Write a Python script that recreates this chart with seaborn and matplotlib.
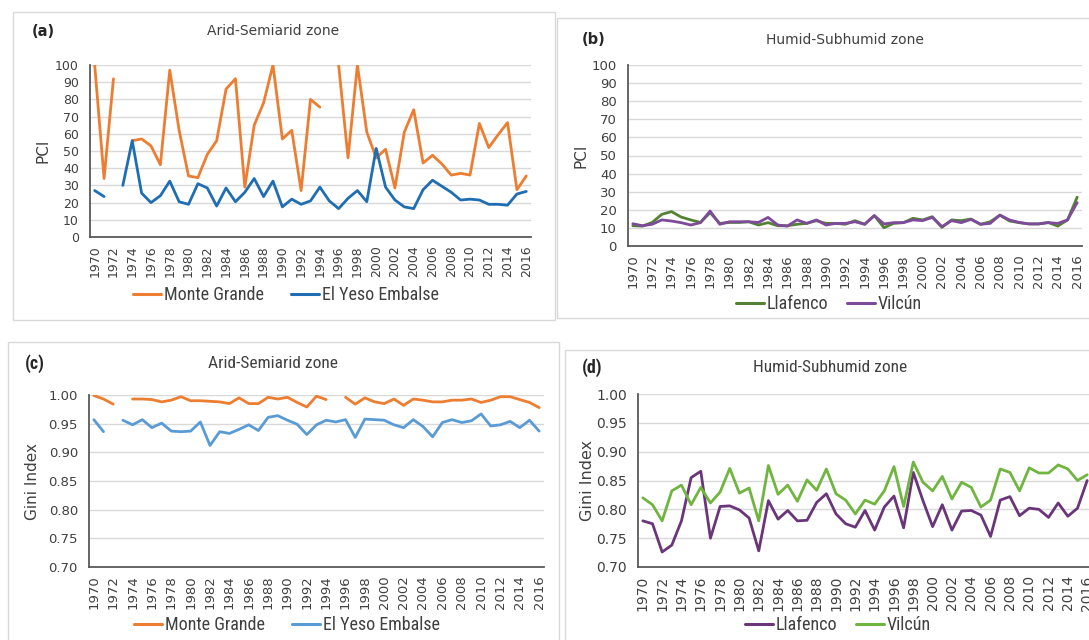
import numpy as np
import pandas as pd
import matplotlib
matplotlib.use("Agg")
import matplotlib.pyplot as plt
import seaborn as sns
from matplotlib.patches import Rectangle
from matplotlib.lines import Line2D
from matplotlib import font_manager
from matplotlib.font_manager import FontProperties

nan = np.nan
years = list(range(1970, 2017))
year_ticks = years[::2]

# Precipitation Concentration Index, arid-semiarid stations
pci_monte_grande = [100, 34, 92, nan, 56, 57, 53, 42, 97, 62, 35.5, 34.5, 48, 56, 86, 92, 29, 65, 78, 100,
                    57, 62, 27, 80, 75.5, nan, 100, 46, 100, 61, 46, 51, 28.5, 61, 74, 43, 47.5, 42.5, 36, 37,
                    36, 66, 52, 59.5, 66.5, 27.5, 35.5]
pci_el_yeso = [27, 23.5, nan, 30, 56, 25.5, 20, 24, 32.5, 20.5, 19, 31, 28.5, 18, 28.5, 20.5, 26, 34, 23.5, 32.5,
               17.5, 22, 19, 21, 29, 21, 16.5, 22.5, 27, 20.5, 51.5, 29, 21.5, 17.5, 16.5, 27.5, 33, 29.5, 26, 21.5,
               22, 21.5, 19, 19, 18.5, 25, 26.5]

# Precipitation Concentration Index, humid-subhumid stations
pci_llafenco = [11.2, 11, 13, 17.5, 19, 16, 14.4, 13, 18.4, 12.5, 13, 13, 13.4, 11.6, 12.9, 11.2, 11.2, 12, 12.5, 14,
                12.5, 12.5, 12, 14, 12, 16.8, 10.1, 12.5, 12.9, 15.3, 14.4, 16.2, 10.3, 14.4, 14, 14.9, 12, 13.4, 17,
                13.8, 12.9, 12.2, 12.2, 13, 11, 14.4, 27]
pci_vilcun = [12.3, 11.2, 12, 14.4, 13.8, 12.9, 11.6, 12.9, 19.3, 12, 13.4, 13.4, 13.4, 13, 15.8, 11.6, 11, 14.4, 12.5, 14.4,
              11.6, 12.5, 12.5, 13.4, 12, 16.8, 12.2, 12.9, 12.9, 14.4, 14, 15.8, 10.7, 14, 12.9, 14.7, 12, 12.5, 17.1,
              14.4, 13, 12.2, 12.2, 12.9, 12.5, 14.4, 24]

# Gini index, arid-semiarid stations
gini_monte_grande = [0.999, 0.993, 0.984, nan, 0.993, 0.993, 0.992, 0.988, 0.991, 0.997, 0.990, 0.990, 0.989, 0.988,
                     0.985, 0.995, 0.985, 0.985, 0.996, 0.993,
                     0.996, 0.987, 0.979, 0.998, 0.992, nan, 0.996, 0.984, 0.995, 0.988, 0.985, 0.993, 0.982, 0.993,
                     0.991, 0.988, 0.988, 0.991, 0.991, 0.993, 0.987, 0.991, 0.997, 0.997, 0.992, 0.987, 0.978]
gini_el_yeso = [0.957, 0.936, nan, 0.956, 0.948, 0.957, 0.943, 0.951, 0.937, 0.936, 0.937, 0.953, 0.912, 0.936,
                0.933, 0.940, 0.948, 0.938, 0.961, 0.964,
                0.956, 0.949, 0.931, 0.948, 0.956, 0.953, 0.957, 0.926, 0.958, 0.957, 0.956, 0.948, 0.943, 0.957,
                0.945, 0.927, 0.952, 0.957, 0.952, 0.955, 0.967, 0.946, 0.948, 0.954, 0.943, 0.956, 0.937]

# Gini index, humid-subhumid stations
gini_llafenco = [0.780, 0.775, 0.726, 0.738, 0.780, 0.855, 0.866, 0.750, 0.805, 0.806, 0.799, 0.785, 0.728, 0.815,
                 0.783, 0.798, 0.780, 0.781, 0.812, 0.827,
                 0.792, 0.775, 0.769, 0.798, 0.764, 0.804, 0.823, 0.768, 0.864, 0.815, 0.770, 0.808, 0.764, 0.797,
                 0.798, 0.790, 0.753, 0.816, 0.822, 0.789, 0.802, 0.800, 0.786, 0.811, 0.788, 0.802, 0.850]
gini_vilcun = [0.820, 0.808, 0.780, 0.832, 0.842, 0.808, 0.838, 0.811, 0.830, 0.871, 0.828, 0.837, 0.780, 0.876,
               0.826, 0.842, 0.814, 0.851, 0.833, 0.870,
               0.827, 0.816, 0.792, 0.816, 0.809, 0.832, 0.874, 0.805, 0.882, 0.847, 0.832, 0.857, 0.818, 0.847,
               0.838, 0.804, 0.816, 0.870, 0.864, 0.832, 0.872, 0.863, 0.863, 0.877, 0.870, 0.850, 0.860]

ORANGE = "#ED7D31"
BLUE_DARK = "#1F6DB3"
BLUE_LIGHT = "#5B9BD5"
GREEN_DARK = "#548235"
PURPLE = "#7E4A9A"
GREEN_LIGHT = "#70B540"
PURPLE_DARK = "#6B3579"
TEXT = "#404040"
GRID = "#D9D9D9"
AXIS = "#595959"

sns.set_theme(style="white")
plt.rcParams["font.family"] = ["DejaVu Sans"]
plt.rcParams["font.stretch"] = "normal"


def pick_narrow_font():
    """Return (family, stretch) of an installed condensed face, or None."""
    installed = {f.name for f in font_manager.fontManager.ttflist}
    for name in ("Liberation Sans Narrow", "Roboto Condensed", "Open Sans Condensed",
                 "Noto Sans Condensed", "DejaVu Sans Condensed", "Arial Narrow"):
        if name in installed:
            return name, "normal"
    for f in font_manager.fontManager.ttflist:
        st = f.stretch
        narrow = (isinstance(st, str) and "condensed" in st) or (isinstance(st, (int, float)) and st < 500)
        if narrow and f.style == "normal":
            return f.name, st
    return None


NARROW = pick_narrow_font()
REGULAR = FontProperties(family="DejaVu Sans", stretch="normal")


def narrow_props(size, weight="normal"):
    if NARROW is None:
        # plain face set a little smaller so the text keeps the same width
        return FontProperties(family="DejaVu Sans", size=size * 0.8, weight=weight)
    return FontProperties(family=NARROW[0], stretch=NARROW[1], size=size, weight=weight)


def regular_props(size, weight="normal"):
    return FontProperties(family="DejaVu Sans", stretch="normal", size=size, weight=weight)


W, H = 1089, 640
fig = plt.figure(figsize=(W / 100, H / 100), dpi=100)
fig.patch.set_facecolor("white")


def fx(x):
    return x / W


def fy(y):
    return 1 - y / H


def px_axes(left, top, right, bottom):
    return fig.add_axes([fx(left), fy(bottom), (right - left) / W, (bottom - top) / H])


def panel_box(left, top, right, bottom):
    fig.add_artist(Rectangle((fx(left), fy(bottom)), (right - left) / W, (bottom - top) / H,
                             transform=fig.transFigure, fill=False, ec="#D9D9D9", lw=1.0, zorder=0))


def draw_series(ax, values, color):
    df = pd.DataFrame({"year": years, "value": values})
    df["seg"] = df["value"].isna().cumsum()
    df = df.dropna()
    sns.lineplot(data=df, x="year", y="value", units="seg", estimator=None,
                 color=color, lw=2.0, ax=ax, legend=False)


def style_axes(ax, ylim, yticks, yfmt, ylabel, tick_fs, label_fs, labelpad):
    ax.set_xlim(1969.5, 2016.5)
    ax.set_ylim(*ylim)
    ax.set_yticks(yticks)
    ax.set_yticklabels([yfmt.format(v) for v in yticks], fontproperties=regular_props(tick_fs), color=TEXT)
    ax.set_xticks(year_ticks)
    ax.set_xticklabels([str(y) for y in year_ticks], rotation=90, fontproperties=regular_props(tick_fs),
                       color=TEXT)
    ax.tick_params(axis="y", length=0, pad=8)
    ax.tick_params(axis="x", length=0, pad=6)
    ax.yaxis.grid(True, color=GRID, lw=1.0)
    ax.xaxis.grid(False)
    ax.set_axisbelow(True)
    for s in ("top", "right"):
        ax.spines[s].set_visible(False)
    for s in ("left", "bottom"):
        ax.spines[s].set_color(AXIS)
        ax.spines[s].set_linewidth(1.3)
    ax.set_xlabel("")
    ax.set_ylabel(ylabel, fontproperties=regular_props(label_fs), color=TEXT, labelpad=labelpad)
    ax.set_facecolor("white")


def legend(entries, cx, cy, fs, spacing):
    handles = [Line2D([0], [0], color=c, lw=2.2) for _, c in entries]
    labels = [n for n, _ in entries]
    fig.legend(handles, labels, loc="center", bbox_to_anchor=(fx(cx), fy(cy)),
               ncol=2, frameon=False, handlelength=1.55, handletextpad=0.15, columnspacing=spacing,
               prop=narrow_props(fs), labelcolor=TEXT)


# panel frames
panel_box(13, 12, 555, 320)
panel_box(557, 18, 1100, 318)
panel_box(8, 342, 559, 660)
panel_box(565, 350, 1100, 660)

pci_ticks = list(range(0, 101, 10))
gini_ticks = [0.70, 0.75, 0.80, 0.85, 0.90, 0.95, 1.00]

# (a) PCI, arid-semiarid
ax_a = px_axes(90, 65, 531, 237)
draw_series(ax_a, pci_monte_grande, ORANGE)
draw_series(ax_a, pci_el_yeso, BLUE_DARK)
style_axes(ax_a, (0, 100), pci_ticks, "{:d}", "PCI", 9, 11, 3)
fig.text(fx(32), fy(32), "(a)", fontproperties=regular_props(10.5, "bold"), color="#262626", va="center")
fig.text(fx(273), fy(31), "Arid-Semiarid zone", fontproperties=regular_props(10), color=TEXT,
         ha="center", va="center")
legend([("Monte Grande", ORANGE), ("El Yeso Embalse", BLUE_DARK)], 286, 295, 13, 1.5)

# (b) PCI, humid-subhumid
ax_b = px_axes(628, 65, 1082, 246)
draw_series(ax_b, pci_llafenco, GREEN_DARK)
draw_series(ax_b, pci_vilcun, PURPLE)
style_axes(ax_b, (0, 100), pci_ticks, "{:d}", "PCI", 9.5, 11, 2)
fig.text(fx(582), fy(40), "(b)", fontproperties=regular_props(10.5, "bold"), color="#262626", va="center")
fig.text(fx(845), fy(40), "Humid-Subhumid zone", fontproperties=regular_props(10), color=TEXT,
         ha="center", va="center")
legend([("Llafenco", GREEN_DARK), ("Vilcún", PURPLE)], 829, 304, 13, 1.0)

# (c) Gini index, arid-semiarid
ax_c = px_axes(89, 395, 544, 567)
draw_series(ax_c, gini_monte_grande, ORANGE)
draw_series(ax_c, gini_el_yeso, BLUE_LIGHT)
style_axes(ax_c, (0.70, 1.00), gini_ticks, "{:.2f}", "Gini Index", 9.5, 11, 6)
fig.text(fx(25), fy(364), "(c)", fontproperties=narrow_props(13, "bold"), color="#262626", va="center")
fig.text(fx(273), fy(363), "Arid-Semiarid zone", fontproperties=narrow_props(12.5), color=TEXT,
         ha="center", va="center")
legend([("Monte Grande", ORANGE), ("El Yeso Embalse", BLUE_LIGHT)], 287, 625, 13, 1.5)

# (d) Gini index, humid-subhumid
ax_d = px_axes(638, 394, 1092, 567)
draw_series(ax_d, gini_llafenco, PURPLE_DARK)
draw_series(ax_d, gini_vilcun, GREEN_LIGHT)
style_axes(ax_d, (0.70, 1.00), gini_ticks, "{:.2f}", "Gini Index", 10, 11.5, 1)
fig.text(fx(582), fy(368), "(d)", fontproperties=narrow_props(13, "bold"), color="#262626", va="center")
fig.text(fx(830), fy(368), "Humid-Subhumid zone", fontproperties=narrow_props(12.5), color=TEXT,
         ha="center", va="center")
legend([("Llafenco", PURPLE_DARK), ("Vilcún", GREEN_LIGHT)], 838, 625, 13, 1.0)

fig.savefig("out.png", dpi=100, facecolor="white")
